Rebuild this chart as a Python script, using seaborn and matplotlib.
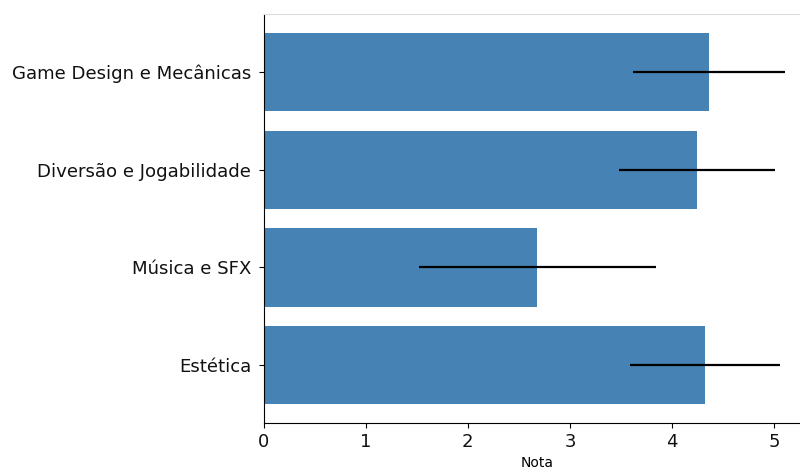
import matplotlib
matplotlib.use("Agg")
import matplotlib.pyplot as plt
import seaborn as sns
import pandas as pd

# Average score per evaluation criterion, with standard deviation
categories = ["Game Design e Mecânicas", "Diversão e Jogabilidade", "Música e SFX", "Estética"]
means = [4.365, 4.24, 2.68, 4.32]
sds = [0.745, 0.763, 1.158, 0.736]

df = pd.DataFrame({"Critério": categories, "Nota": means})

fig = plt.figure(figsize=(8.0, 4.7), dpi=100)
ax = fig.add_axes([0.3295, 0.10, 0.685, 0.87])

sns.barplot(data=df, x="Nota", y="Critério", orient="h", color="steelblue",
            saturation=1, width=0.8, errorbar=None, ax=ax)
ax.errorbar(df["Nota"], range(len(categories)), xerr=sds, fmt="none",
            ecolor="black", elinewidth=1.6, capsize=0)

ax.set_xlim(0, 5.366)
ax.set_ylim(3.59, -0.59)
ax.set_xticks([0, 1, 2, 3, 4, 5])
ax.set_xlabel("Nota", fontsize=10)
ax.set_ylabel("")
ax.tick_params(axis="x", labelsize=13)
ax.tick_params(axis="y", labelsize=13.1, pad=5.5)
for lbl in ax.get_yticklabels() + ax.get_xticklabels():
    lbl.set_color("#111111")

ax.spines["right"].set_visible(False)
ax.spines["top"].set_color("#dddddd")

fig.savefig("out.png", dpi=100)
